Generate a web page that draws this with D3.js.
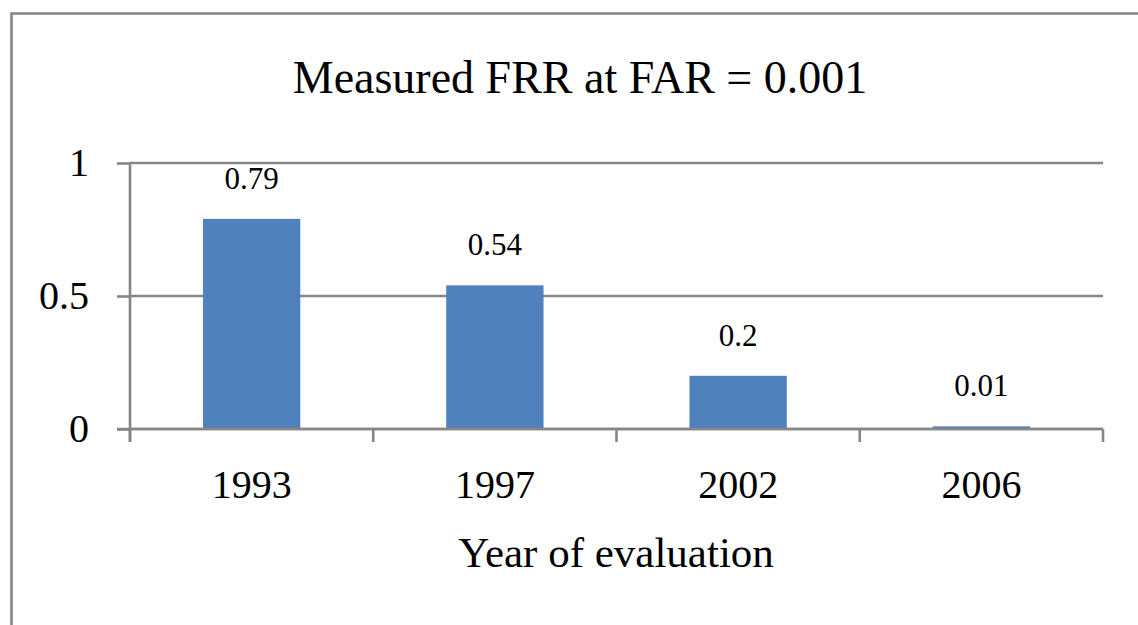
<!DOCTYPE html>
<html lang="en">
<head>
<meta charset="UTF-8">
<title>Measured FRR at FAR = 0.001</title>
<script src="https://d3js.org/d3.v7.min.js"></script>
<style>
  body { margin: 0; background: #fff; }
  text { font-family: "Liberation Serif", "Times New Roman", serif; fill: #000; }
</style>
</head>
<body>
<div id="chart"></div>
<script>
// data
var years = ["1993", "1997", "2002", "2006"];
var frr = [0.79, 0.54, 0.2, 0.01];
var yTicks = [0, 0.5, 1];

var W = 1138, H = 625;
var plotLeft = 130, plotRight = 1103, plotTop = 163, plotBottom = 429;
var lineColor = "#868686";
var lw = 2.6;

var svg = d3.select("#chart").append("svg")
  .attr("width", W)
  .attr("height", H);

// outer frame
svg.append("rect")
  .attr("x", 11.5).attr("y", 13.5)
  .attr("width", 1160).attr("height", 700)
  .attr("fill", "none")
  .attr("stroke", lineColor)
  .attr("stroke-width", 2.6);

var x = d3.scaleBand()
  .domain(years)
  .range([plotLeft, plotRight])
  .paddingInner(0.6)
  .paddingOuter(0.3);

var y = d3.scaleLinear()
  .domain([0, 1])
  .range([plotBottom, plotTop]);

// y ticks + labels
var yAxis = svg.append("g")
  .attr("transform", "translate(" + plotLeft + ",0)")
  .call(d3.axisLeft(y).tickValues(yTicks).tickSize(13).tickFormat(d3.format("")));
yAxis.select(".domain").remove();
yAxis.selectAll("line").attr("stroke", lineColor).attr("stroke-width", lw);
yAxis.selectAll("text")
  .attr("x", -41)
  .attr("dy", "0.3em")
  .style("font-size", "40px");

// gridlines
svg.append("g").selectAll("line")
  .data(yTicks)
  .enter().append("line")
  .attr("x1", plotLeft).attr("x2", plotRight)
  .attr("y1", function(d) { return y(d); })
  .attr("y2", function(d) { return y(d); })
  .attr("stroke", lineColor)
  .attr("stroke-width", lw);

// vertical axis line
svg.append("line")
  .attr("x1", plotLeft).attr("x2", plotLeft)
  .attr("y1", y(1)).attr("y2", plotBottom + 13)
  .attr("stroke", lineColor)
  .attr("stroke-width", lw);

// category tick marks at band edges
var edges = years.map(function(d) { return x(d) - x.step() * 0.3; });
edges.push(plotRight);
svg.append("g").selectAll("line")
  .data(edges)
  .enter().append("line")
  .attr("x1", function(d) { return d; })
  .attr("x2", function(d) { return d; })
  .attr("y1", plotBottom).attr("y2", plotBottom + 13)
  .attr("stroke", lineColor)
  .attr("stroke-width", lw);

// bars
svg.append("g").selectAll("rect")
  .data(frr)
  .enter().append("rect")
  .attr("x", function(d, i) { return x(years[i]); })
  .attr("y", function(d) { return y(d); })
  .attr("width", x.bandwidth())
  .attr("height", function(d) { return plotBottom - y(d); })
  .attr("fill", "#4f81bd");

// zero line over bars
svg.append("line")
  .attr("x1", plotLeft - 13).attr("x2", plotRight)
  .attr("y1", plotBottom).attr("y2", plotBottom)
  .attr("stroke", lineColor)
  .attr("stroke-width", lw);

// value labels
svg.append("g").selectAll("text")
  .data(frr)
  .enter().append("text")
  .attr("x", function(d, i) { return x(years[i]) + x.bandwidth() / 2; })
  .attr("y", function(d) { return y(d) - 30; })
  .attr("text-anchor", "middle")
  .style("font-size", "31px")
  .text(function(d) { return d; });

// category labels
svg.append("g").selectAll("text")
  .data(years)
  .enter().append("text")
  .attr("x", function(d) { return x(d) + x.bandwidth() / 2; })
  .attr("y", 498)
  .attr("text-anchor", "middle")
  .style("font-size", "40px")
  .text(function(d) { return d; });

// title and axis title
svg.append("text")
  .attr("x", 580).attr("y", 93)
  .attr("text-anchor", "middle")
  .style("font-size", "46px")
  .text("Measured FRR at FAR = 0.001");

svg.append("text")
  .attr("x", 616).attr("y", 567)
  .attr("text-anchor", "middle")
  .style("font-size", "43px")
  .text("Year of evaluation");
</script>
</body>
</html>
